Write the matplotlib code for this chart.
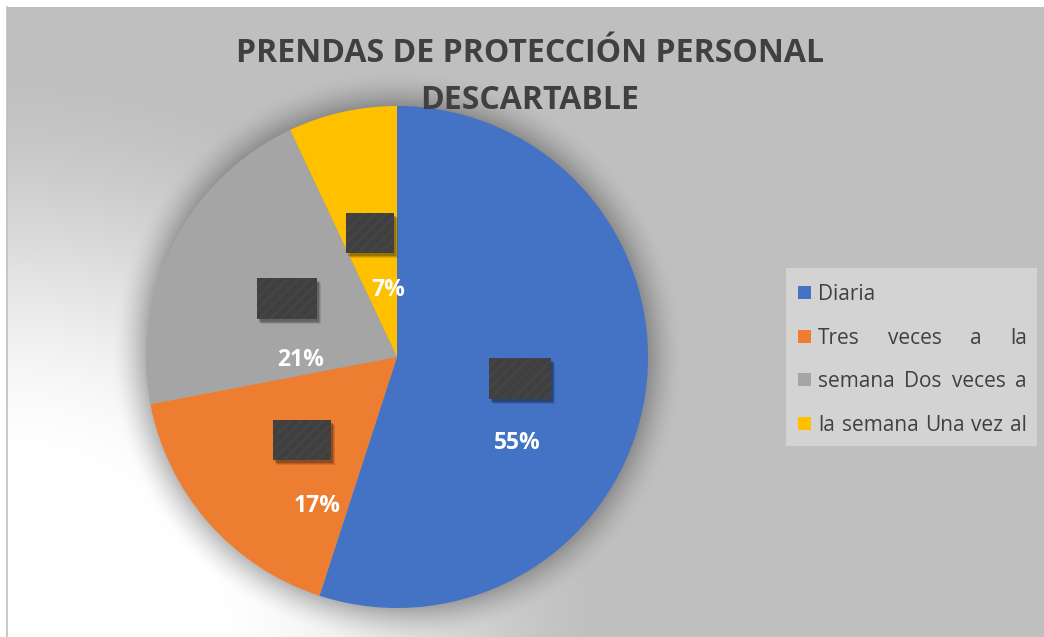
import numpy as np
import matplotlib.pyplot as plt
from matplotlib.patches import Rectangle

# data
categories = ['Diaria', 'Tres veces a la semana', 'Dos veces a la semana', 'Una vez al mes']
values = [55, 17, 21, 7]
pct_labels = ['55%', '17%', '21%', '7%']
colors = ['#4472C4', '#ED7D31', '#A5A5A5', '#FFC000']
legend_lines = ['Diaria', 'Tres veces a la', 'semana Dos veces a', 'la semana Una vez al']
title_lines = ['PRENDAS DE PROTECCIÓN PERSONAL', 'DESCARTABLE']

# layout (pixel units, y up)
W, H = 1044, 637
cx, cy, R = 397, 280, 251
pct_pos = [(0.478, -0.331), (-0.319, -0.582), (-0.386, 0.0), (-0.036, 0.275)]
box_pos = [(0.490, -0.084), (-0.378, -0.331), (-0.438, 0.235), (-0.108, 0.494)]
box_size = [(62, 41), (58, 40), (60, 41), (48, 40)]

fig = plt.figure(figsize=(W / 100, H / 100), dpi=100, facecolor='white')
ax = fig.add_axes([0, 0, 1, 1])

# background: radial gradient from lower-left corner + soft shadow of the pie
x0b, y1b = 7, 630
yy, xx = np.mgrid[0:y1b, 0:W - x0b]
xx = xx + x0b + 0.5
yy = yy + 0.5
r = np.hypot(xx, yy + 40)
t = np.clip((r - 210) / 420, 0, 1)
t = t * t * (3 - 2 * t)
bg = 255 - 64 * t
d = np.hypot(xx - cx, yy - cy)
s = 0.26 * np.clip(1 - (d - R) / 34, 0, 1) ** 1.6
bg = bg * (1 - s)
img = np.dstack([bg, bg, bg]) / 255.0
ax.imshow(img, origin='lower', extent=(x0b, W, 0, y1b), aspect='auto',
          interpolation='bilinear', zorder=0)
ax.plot([x0b, x0b], [0, y1b], color='#BFBFBF', lw=1.2, zorder=1)

# pie
ax.pie(values, colors=colors, startangle=90, counterclock=False,
       center=(cx, cy), radius=R, wedgeprops=dict(linewidth=0), frame=True)
ax.set_xlim(0, W)
ax.set_ylim(0, H)
ax.axis('off')

# placeholder label boxes with shadow
for (bx, by), (bw, bh) in zip(box_pos, box_size):
    x = cx + bx * R - bw / 2
    y = cy + by * R - bh / 2
    for k, a in [(5, 0.10), (4, 0.15), (3, 0.2)]:
        ax.add_patch(Rectangle((x + k - 1, y - k), bw, bh, facecolor='black',
                               alpha=a, linewidth=0, zorder=3))
    ax.add_patch(Rectangle((x, y), bw, bh, facecolor='#404040', edgecolor='#484848',
                           linewidth=0, hatch='///', zorder=4))

# percentage labels
for (px, py), lab in zip(pct_pos, pct_labels):
    ax.text(cx + px * R, cy + py * R - 8.5, lab, ha='center', va='baseline',
            fontsize=16.5, fontweight='bold', color='white',
            family=['Open Sans', 'DejaVu Sans'], zorder=5)

# title
for i, line in enumerate(title_lines):
    ax.text(530, 575 - 47 * i, line, ha='center', va='baseline', fontsize=23,
            fontweight='bold', color='#404040', family=['Open Sans', 'DejaVu Sans'])

# legend (drawn by hand, justified text)
ax.add_patch(Rectangle((786, 191), 251, 178, facecolor='#D3D3D3', linewidth=0, zorder=2))
renderer = fig.canvas.get_renderer()
tx0, tx1 = 818, 1027
for i, line in enumerate(legend_lines):
    yc = 344.5 - 43.7 * i
    ax.add_patch(Rectangle((798, yc - 6.5), 13, 13, facecolor=colors[i], linewidth=0, zorder=3))
    words = line.split()
    kw = dict(ha='left', va='baseline', fontsize=15, color='#404040',
              family=['Open Sans', 'DejaVu Sans'], zorder=3)
    if i == 0 or len(words) == 1:
        ax.text(tx0, yc - 7.5, line, **kw)
        continue
    texts = [ax.text(0, yc - 7.5, w, **kw) for w in words]
    widths = [tt.get_window_extent(renderer).width for tt in texts]
    gap = (tx1 - tx0 - sum(widths)) / (len(words) - 1)
    xpos = tx0
    for tt, w in zip(texts, widths):
        tt.set_x(xpos)
        xpos += w + gap

fig.savefig('out.png', dpi=100, facecolor='white')
